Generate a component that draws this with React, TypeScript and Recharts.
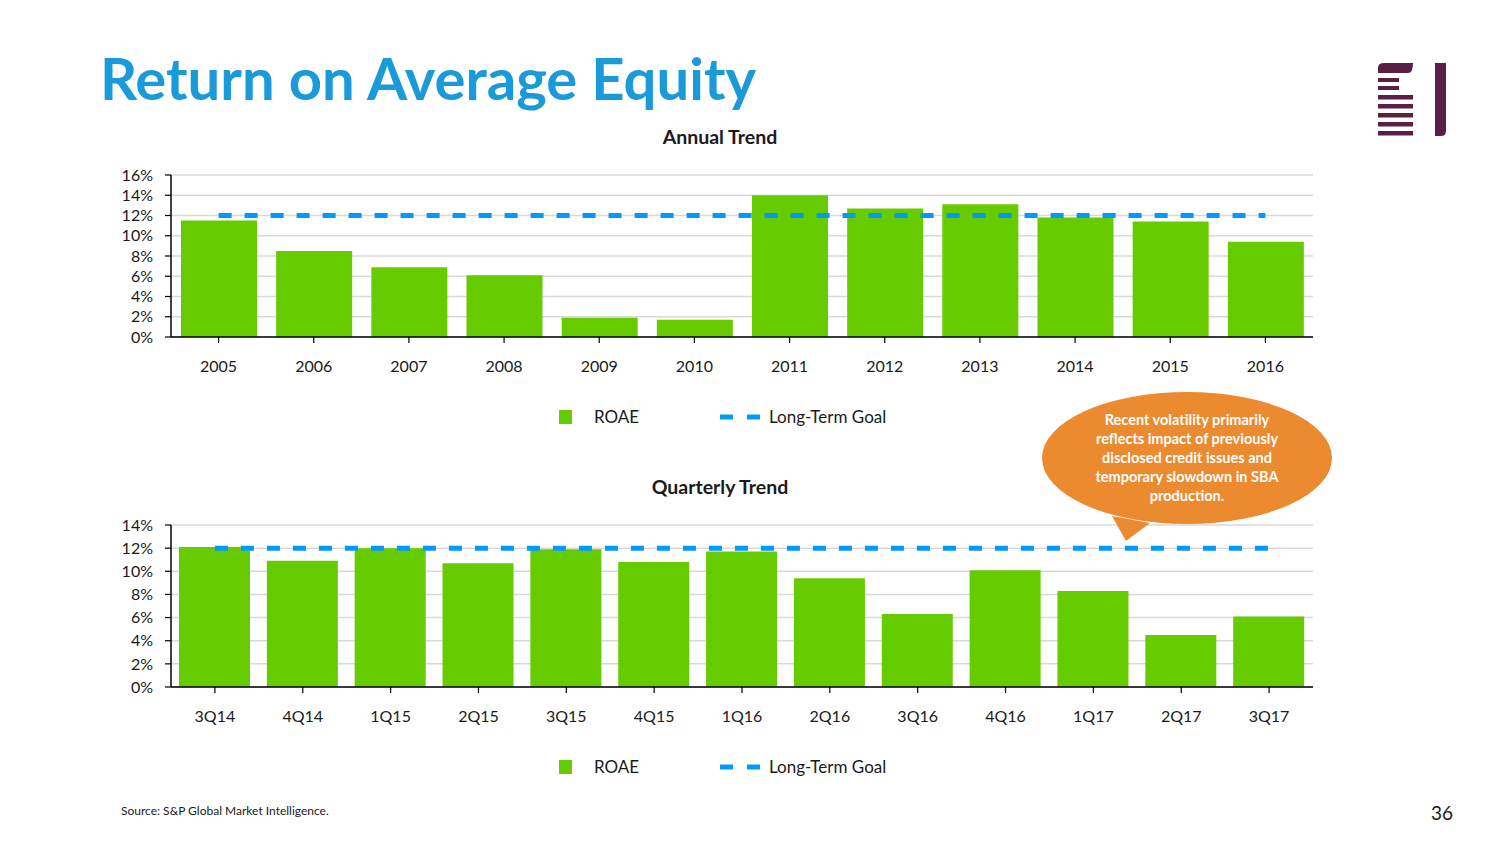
import React from 'react';
import { ComposedChart, Bar, Line, XAxis, YAxis, CartesianGrid, Legend } from 'recharts';

const annualYears = ['2005', '2006', '2007', '2008', '2009', '2010', '2011', '2012', '2013', '2014', '2015', '2016'];
const annualRoae = [11.5, 8.5, 6.9, 6.1, 1.9, 1.7, 14.0, 12.7, 13.1, 11.8, 11.4, 9.4];
const quarterLabels = ['3Q14', '4Q14', '1Q15', '2Q15', '3Q15', '4Q15', '1Q16', '2Q16', '3Q16', '4Q16', '1Q17', '2Q17', '3Q17'];
const quarterRoae = [12.1, 10.9, 12.0, 10.7, 11.9, 10.8, 11.7, 9.4, 6.3, 10.1, 8.3, 4.5, 6.1];
const longTermGoal = 12;
const annualTicks = [0, 2, 4, 6, 8, 10, 12, 14, 16];
const quarterTicks = [0, 2, 4, 6, 8, 10, 12, 14];
const calloutLines = [
  'Recent volatility primarily',
  'reflects impact of previously',
  'disclosed credit issues and',
  'temporary slowdown in SBA',
  'production.',
];

const annualData = annualYears.map((y, i) => ({ label: y, roae: annualRoae[i], goal: longTermGoal }));
const quarterData = quarterLabels.map((q, i) => ({ label: q, roae: quarterRoae[i], goal: longTermGoal }));

const GREEN = '#66CC00';
const BLUE = '#0099FF';
const TITLE_BLUE = '#1A9AD8';
const FONT = 'Lato, "Open Sans", "Noto Sans", sans-serif';
const TEXT = '#1a1a1a';

const LegendContent = () => (
  <svg width={360} height={24} style={{ display: 'block' }}>
    <rect x={0} y={5} width={13} height={14} fill={GREEN} />
    <text x={35} y={18} fontSize={17} fontFamily={FONT} fill={TEXT}>ROAE</text>
    <line x1={161} x2={201} y1={12} y2={12} stroke={BLUE} strokeWidth={5} strokeDasharray="13 14" />
    <text x={210} y={18} fontSize={17} fontFamily={FONT} fill={TEXT}>Long-Term Goal</text>
  </svg>
);

type TrendProps = {
  data: { label: string; roae: number; goal: number }[];
  ticks: number[];
  max: number;
  top: number;
  title: string;
  titleY: number;
  barSize: number;
};

const Trend = ({ data, ticks, max, top, title, titleY, barSize }: TrendProps) => {
  const marginTop = 55;
  return (
    <div style={{ position: 'absolute', left: 0, top: top - marginTop, width: 1504, height: 330 }}>
      <div
        style={{
          position: 'absolute',
          left: 520,
          width: 400,
          top: titleY - (top - marginTop) - 12,
          textAlign: 'center',
          fontFamily: FONT,
          fontWeight: 700,
          fontSize: 19.5,
          lineHeight: '24px',
          color: TEXT,
        }}
      >
        {title}
      </div>
      <ComposedChart
        width={1504}
        height={330}
        data={data}
        margin={{ top: marginTop, right: 191, left: 111, bottom: 85 }}
      >
        <CartesianGrid horizontal vertical={false} stroke="#d9d9d9" strokeWidth={1.5} />
        <XAxis
          dataKey="label"
          height={28}
          tick={{ fill: TEXT, fontSize: 16, fontFamily: FONT }}
          tickSize={6}
          tickMargin={18}
          axisLine={{ stroke: '#000', strokeWidth: 1.5 }}
          tickLine={{ stroke: '#000', strokeWidth: 1.2 }}
        />
        <YAxis
          width={60}
          domain={[0, max]}
          ticks={ticks}
          interval={0}
          tickFormatter={(v: number) => `${v}%`}
          tick={{ fill: TEXT, fontSize: 16, fontFamily: FONT }}
          tickSize={6}
          tickMargin={12}
          axisLine={{ stroke: '#000', strokeWidth: 1.5 }}
          tickLine={{ stroke: '#000', strokeWidth: 1.2 }}
        />
        <Bar dataKey="roae" name="ROAE" fill={GREEN} barSize={barSize} isAnimationActive={false} />
        <Line
          dataKey="goal"
          name="Long-Term Goal"
          type="linear"
          stroke={BLUE}
          strokeWidth={5}
          strokeDasharray="13 13"
          dot={false}
          activeDot={false}
          isAnimationActive={false}
        />
        <Legend
          layout="horizontal"
          align="center"
          verticalAlign="middle"
          content={<LegendContent />}
          wrapperStyle={{ left: 559, top: 285, width: 360, height: 24 }}
        />
      </ComposedChart>
    </div>
  );
};

const Logo = () => {
  const c = '#5B1F46';
  return (
    <svg style={{ position: 'absolute', left: 1370, top: 55 }} width={90} height={90}>
      <path d={`M8 18 L8 13 Q8 8 14 8 L43 8 Q43 18 38 18 Z`} fill={c} />
      <rect x={8} y={23} width={21} height={4} fill={c} />
      <rect x={8} y={31} width={21} height={4} fill={c} />
      {[40, 49, 58, 67, 76].map((y) => (
        <rect key={y} x={8} y={y} width={35} height={4.5} fill={c} />
      ))}
      <path d={`M65 8 L76 8 L76 76 Q76 81 71 81 L65 81 Z`} fill={c} />
    </svg>
  );
};

const Callout = () => (
  <svg style={{ position: 'absolute', left: 0, top: 0, pointerEvents: 'none' }} width={1504} height={846}>
    <path d="M1112 516 L1126 541 L1150 523 Z" fill="#EC8A30" />
    <ellipse cx={1187} cy={458} rx={145} ry={66} fill="#EC8A30" />
    {calloutLines.map((l, i) => (
      <text
        key={i}
        x={1187}
        y={425 + i * 19}
        textAnchor="middle"
        fontFamily={FONT}
        fontWeight={700}
        fontSize={14.5}
        fill="#fff"
      >
        {l}
      </text>
    ))}
  </svg>
);

export default function App() {
  return (
    <div
      style={{
        position: 'absolute',
        left: 0,
        top: 0,
        width: 1504,
        height: 846,
        background: '#fff',
        overflow: 'hidden',
        fontFamily: FONT,
      }}
    >
      <div
        style={{
          position: 'absolute',
          left: 100,
          top: 43,
          fontFamily: FONT,
          fontWeight: 700,
          fontSize: 58,
          lineHeight: '70px',
          color: TITLE_BLUE,
          whiteSpace: 'nowrap',
        }}
      >
        Return on Average Equity
      </div>
      <Logo />
      <Trend data={annualData} ticks={annualTicks} max={16} top={175} title="Annual Trend" titleY={137} barSize={76} />
      <Trend data={quarterData} ticks={quarterTicks} max={14} top={525} title="Quarterly Trend" titleY={487} barSize={71} />
      <Callout />
      <div style={{ position: 'absolute', left: 121, top: 803, fontSize: 12, fontFamily: FONT, color: TEXT }}>
        Source: S&amp;P Global Market Intelligence.
      </div>
      <div style={{ position: 'absolute', left: 1431, top: 801, fontSize: 19, fontFamily: FONT, color: TEXT }}>36</div>
    </div>
  );
}
